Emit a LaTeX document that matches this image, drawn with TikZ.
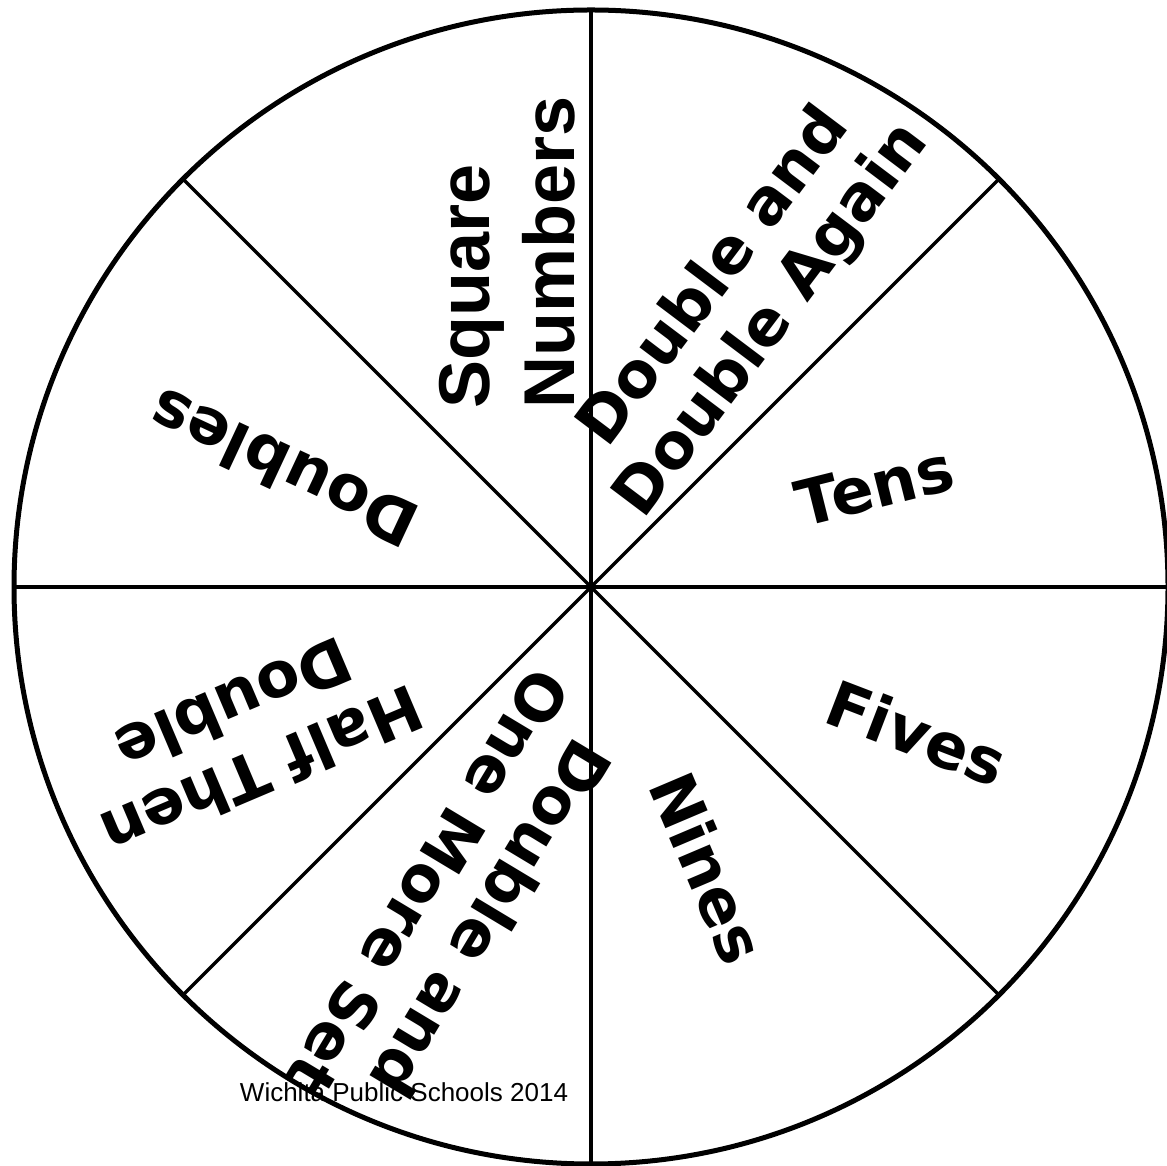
\documentclass[tikz,border=0pt]{standalone}
\usepackage{fontspec}
\newfontfamily\wheelfont{DejaVu Sans}
\newfontfamily\squarefont{Liberation Sans}
\newfontfamily\footfont{Liberation Sans}
\usetikzlibrary{calc}

\tikzset{
  rim/.style={line width=5pt},
  spoke/.style={line width=3.5pt},
  slice/.style={font=\wheelfont\bfseries\fontsize{63}{72}\selectfont, align=center, inner sep=0pt},
  sqslice/.style={font=\squarefont\bfseries\fontsize{72}{85}\selectfont, align=left, inner sep=0pt},
}

\begin{document}
\begin{tikzpicture}[x=1pt,y=1pt]
\useasboundingbox (0,0) rectangle (1167,1165);
\coordinate (c) at (591,578);
% slice labels, going round from the top
\node[sqslice, rotate=90] (square) at ($(c)+(104.1:345)$) {Square\\Numbers};
\node[slice, rotate=53] (again) at ($(c)+(62:326)$) {Double and\\Double Again};
\node[slice, rotate=14] (tens) at ($(c)+(19.6:301)$) {Tens};
\node[slice, rotate=-21] (fives) at ($(c)+(-24.1:357)$) {Fives};
\node[slice, rotate=-67] (nines) at ($(c)+(-67.4:304)$) {Nines};
\node[slice, rotate=239] (moreset) at ($(c)+(-112.6:340)$) {Double and\\One More Set};
\node[slice, rotate=203] (halfthen) at ($(c)+(-156.1:375)$) {Half Then\\Double};
\node[slice, rotate=155] (doubles) at ($(c)+(159:330)$) {Doubles};
% wheel
\foreach \a in {0,45,...,315}
  \draw[spoke] (c) -- ++(\a:577);
\draw[rim] (c) circle[radius=577];
\node[font=\footfont\fontsize{26}{30}\selectfont, inner sep=0pt] (footer) at (404,73) {Wichita Public Schools 2014};
\end{tikzpicture}
\end{document}
